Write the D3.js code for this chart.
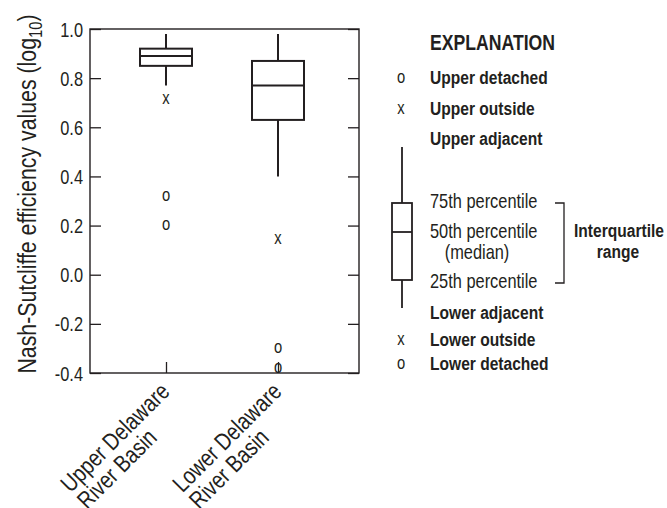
<!DOCTYPE html>
<html lang="en">
<head>
<meta charset="UTF-8">
<title>Nash-Sutcliffe boxplots</title>
<script src="https://d3js.org/d3.v7.min.js"></script>
<style>
  body { margin: 0; background: #fff; }
  svg text { font-family: "Liberation Sans", Arial, sans-serif; fill: #231f20; }
  .axis path { display: none; }
  .axis line { stroke: #231f20; stroke-width: 1.3; }
</style>
</head>
<body>
<div id="chart"></div>
<script>
// basins and their box-plot statistics (log10 NSE)
var basins = ["Upper Delaware River Basin", "Lower Delaware River Basin"];
var basinLines = [["Upper Delaware", "River Basin"], ["Lower Delaware", "River Basin"]];
var lowAdj  = [0.77, 0.40];
var q1      = [0.85, 0.63];
var median  = [0.89, 0.77];
var q3      = [0.92, 0.87];
var highAdj = [0.98, 0.98];
var outside  = [[0.715], [0.145]];
var detached = [[0.32, 0.20], [-0.30, -0.38]];
var yTicks = [-0.4, -0.2, 0.0, 0.2, 0.4, 0.6, 0.8, 1.0];

var W = 667, H = 508;
var NARROW = 0.82;   // no narrow font installed, squeeze Liberation Sans instead
var ink = "#231f20";

var svg = d3.select("#chart").append("svg")
    .attr("width", W).attr("height", H);

// put a horizontally squeezed text at (x, y), optional rotation
function label(parent, x, y, str, size, opt) {
    opt = opt || {};
    var g = parent.append("g")
        .attr("transform", "translate(" + x + "," + y + ")" + (opt.rotate ? " rotate(" + opt.rotate + ")" : "") + " scale(" + NARROW + ",1)");
    var t = g.append("text")
        .attr("text-anchor", opt.anchor || "start")
        .style("font-size", size + "px")
        .style("font-weight", opt.bold ? "bold" : "normal")
        .text(str);
    return t;
}

var frame = {left: 90, top: 29, right: 359, bottom: 373};

var y = d3.scaleLinear().domain([-0.4, 1.0]).range([frame.bottom, frame.top]);
var x = d3.scalePoint().domain(basins).range([166, 278]);

// axes, ticks pointing inward
var yAxis = svg.append("g").attr("class", "axis")
    .attr("transform", "translate(" + frame.left + ",0)")
    .call(d3.axisLeft(y).tickValues(yTicks).tickSize(-11).tickFormat(""));
yAxis.selectAll(".tick").each(function(d) {
    label(d3.select(this), -7, 7, d3.format(".1f")(d).replace("\u2212", "-"), 20, {anchor: "end"});
});
svg.append("g").attr("class", "axis")
    .attr("transform", "translate(" + frame.right + ",0)")
    .call(d3.axisRight(y).tickValues(yTicks).tickSize(-11).tickFormat(""));
svg.append("g").attr("class", "axis")
    .attr("transform", "translate(0," + frame.bottom + ")")
    .call(d3.axisBottom(x).tickSize(-11).tickFormat(""));

svg.append("rect")
    .attr("x", frame.left).attr("y", frame.top)
    .attr("width", frame.right - frame.left).attr("height", frame.bottom - frame.top)
    .attr("fill", "none").attr("stroke", ink).attr("stroke-width", 1.4);

// y title
var title = label(svg, 35.5, 194, "Nash-Sutcliffe efficiency values (log", 26, {anchor: "middle", rotate: -90});
title.append("tspan").attr("dy", 6).style("font-size", "18px").text("10");
title.append("tspan").attr("dy", -6).text(")");

// boxes
var boxW = 52;
basins.forEach(function(b, i) {
    var cx = x(b);
    var g = svg.append("g");
    g.append("line").attr("x1", cx).attr("x2", cx)
        .attr("y1", y(highAdj[i])).attr("y2", y(q3[i]))
        .attr("stroke", ink).attr("stroke-width", 2);
    g.append("line").attr("x1", cx).attr("x2", cx)
        .attr("y1", y(q1[i])).attr("y2", y(lowAdj[i]))
        .attr("stroke", ink).attr("stroke-width", 2);
    g.append("rect").attr("x", cx - boxW / 2).attr("width", boxW)
        .attr("y", y(q3[i])).attr("height", y(q1[i]) - y(q3[i]))
        .attr("fill", "none").attr("stroke", ink).attr("stroke-width", 2);
    g.append("line").attr("x1", cx - boxW / 2).attr("x2", cx + boxW / 2)
        .attr("y1", y(median[i])).attr("y2", y(median[i]))
        .attr("stroke", ink).attr("stroke-width", 2);

    outside[i].forEach(function(v) {
        label(g, cx, y(v) + 4.5, "x", 18, {anchor: "middle"});
    });
    detached[i].forEach(function(v) {
        label(g, cx, y(v) + 4.5, "o", 18, {anchor: "middle"});
    });

    // rotated category label, second line left-aligned with the first
    var t1 = label(svg, cx + 5, frame.bottom + 20, basinLines[i][0], 24, {anchor: "end", rotate: -45});
    var len = t1.node().getComputedTextLength();
    d3.select(t1.node().parentNode).append("text")
        .attr("x", -len).attr("y", 23.5)
        .style("font-size", "24px")
        .text(basinLines[i][1]);
});

// explanation
var leg = svg.append("g");
var lx = 430, sx = 401, lb = 402;
label(leg, lx, 50, "EXPLANATION", 21.5, {bold: true});

var boldItems = [
    {t: "Upper detached", y: 84, s: "o"},
    {t: "Upper outside", y: 115, s: "x"},
    {t: "Upper adjacent", y: 145, s: ""},
    {t: "Lower adjacent", y: 319, s: ""},
    {t: "Lower outside", y: 346, s: "x"},
    {t: "Lower detached", y: 370, s: "o"}
];
boldItems.forEach(function(d) {
    label(leg, lx, d.y, d.t, 19, {bold: true});
    if (d.s) label(leg, sx, d.y - 1, d.s, 18, {anchor: "middle"});
});

var pctItems = [
    {t: "75th percentile", y: 208, x: lx, a: "start"},
    {t: "50th percentile", y: 238, x: lx, a: "start"},
    {t: "(median)", y: 259, x: 477, a: "middle"},
    {t: "25th percentile", y: 288, x: lx, a: "start"}
];
pctItems.forEach(function(d) {
    label(leg, d.x, d.y, d.t, 20, {anchor: d.a});
});

leg.append("line").attr("x1", lb).attr("x2", lb).attr("y1", 147).attr("y2", 203)
    .attr("stroke", ink).attr("stroke-width", 1.8);
leg.append("line").attr("x1", lb).attr("x2", lb).attr("y1", 280).attr("y2", 308)
    .attr("stroke", ink).attr("stroke-width", 1.8);
leg.append("rect").attr("x", 392).attr("y", 203).attr("width", 20).attr("height", 77)
    .attr("fill", "none").attr("stroke", ink).attr("stroke-width", 1.8);
leg.append("line").attr("x1", 392).attr("x2", 412).attr("y1", 232).attr("y2", 232)
    .attr("stroke", ink).attr("stroke-width", 1.8);

leg.append("path").attr("d", "M555,203H564V283H555")
    .attr("fill", "none").attr("stroke", ink).attr("stroke-width", 1.3);
label(leg, 619, 237, "Interquartile", 19, {anchor: "middle", bold: true});
label(leg, 618, 258, "range", 19, {anchor: "middle", bold: true});
</script>
</body>
</html>
